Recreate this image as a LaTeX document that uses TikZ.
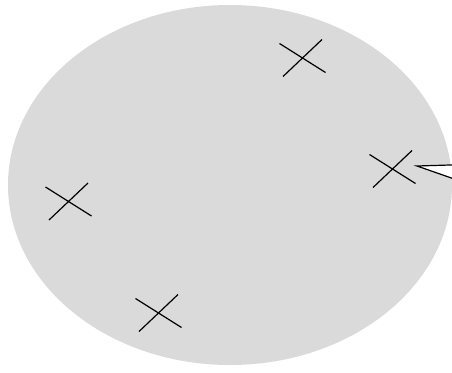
\documentclass[tikz,border=0pt]{standalone}
\definecolor{blobgray}{RGB}{218,218,218}
\tikzset{
  markline/.style={line width=1.2pt, black},
  xmark/.pic={
    \draw[markline] (-23,-14.5) -- (23,14.5);
    \draw[markline] (-19.5,18.5) -- (19.5,-18.5);
  },
  headshape/.style={fill=white, draw=black, line width=1.2pt, line join=miter}
}
\begin{document}
\begin{tikzpicture}[x=1pt,y=-1pt]
  \useasboundingbox (0,0) rectangle (452,372);
  \clip (0,0) rectangle (452,372);
  \fill[blobgray] (230,185) ellipse [x radius=222, y radius=180];
  \pic (m1) at (392.5,169) {xmark};
  \pic (m2) at (302.5,58) {xmark};
  \pic (m3) at (68.5,201.5) {xmark};
  \pic (m4) at (158.5,313) {xmark};
  \coordinate (tip) at (417,166);
  \coordinate (up) at (500,163.5);
  \coordinate (lo) at (500,195);
  \draw[headshape] (tip) -- (up) -- (lo) -- cycle;
\end{tikzpicture}
\end{document}
